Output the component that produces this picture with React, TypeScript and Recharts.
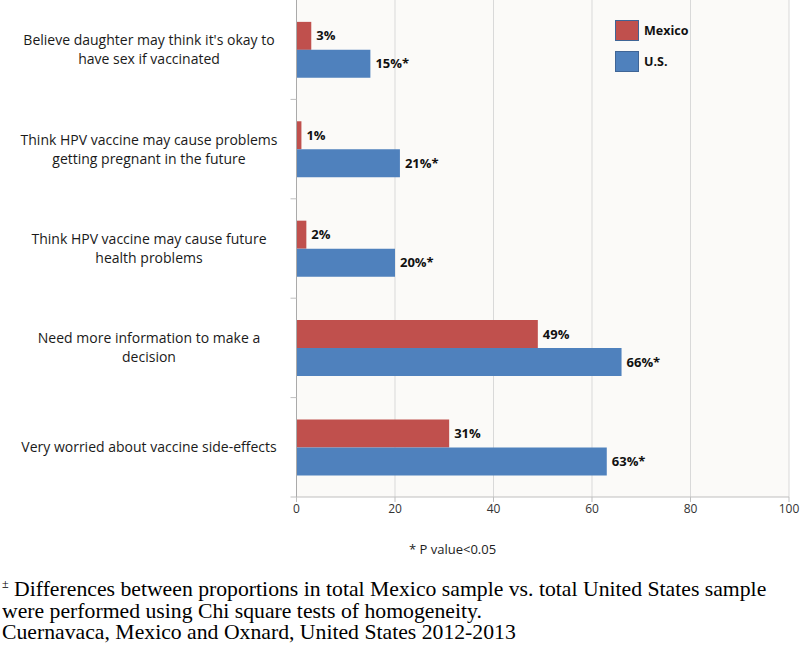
import React from "react"
import { Bar, BarChart, CartesianGrid, LabelList, XAxis, YAxis } from "recharts"

const categories = [
  "Believe daughter may think it's okay to have sex if vaccinated",
  "Think HPV vaccine may cause problems getting pregnant in the future",
  "Think HPV vaccine may cause future health problems",
  "Need more information to make a decision",
  "Very worried about vaccine side-effects",
]
const categoryLines = [
  ["Believe daughter may think it's okay to", "have sex if vaccinated"],
  ["Think HPV vaccine may cause problems", "getting pregnant in the future"],
  ["Think HPV vaccine may cause future", "health problems"],
  ["Need more information to make a", "decision"],
  ["Very worried about vaccine side-effects"],
]
const mexico = [3, 1, 2, 49, 31]
const us = [15, 21, 20, 66, 63]
const xTicks = [0, 20, 40, 60, 80, 100]

const data = categories.map((c, i) => ({ name: c, mexico: mexico[i], us: us[i] }))

const RED = "#c0504d"
const BLUE = "#4f81bd"
const FONT = "'Open Sans', 'Liberation Sans', sans-serif"

function CategoryTick(props: any) {
  const { x, y, payload } = props
  const lines = categoryLines[payload.index] ?? [payload.value]
  const lh = 19
  const start = y - ((lines.length - 1) * lh) / 2 + 5
  return (
    <g>
      {lines.map((l, i) => (
        <text key={i} x={149} y={start + i * lh} textAnchor="middle" fontSize={14} fill="#1a1a1a" fontFamily={FONT}>
          {l}
        </text>
      ))}
      <line x1={x + 2} x2={x + 8} y1={y + 49.7} y2={y + 49.7} stroke="#bfbfbf" />
    </g>
  )
}

function LegendBox() {
  const items = [
    { label: "Mexico", color: RED },
    { label: "U.S.", color: BLUE },
  ]
  return (
    <div style={{ position: "absolute", left: 615, top: 15, fontFamily: FONT }}>
      {items.map((it) => (
        <div key={it.label} style={{ display: "flex", alignItems: "center", height: 31 }}>
          <div style={{ width: 22, height: 19, background: it.color, border: "1.5px solid #3f6596", marginRight: 5 }} />
          <span style={{ fontSize: 12.5, fontWeight: 700, color: "#111" }}>{it.label}</span>
        </div>
      ))}
    </div>
  )
}

export default function App() {
  return (
    <div style={{ position: "absolute", left: 0, top: 0, width: 800, height: 649, background: "#fff", overflow: "hidden" }}>
      <BarChart
        width={800}
        height={530}
        layout="vertical"
        data={data}
        margin={{ top: 0, right: 11, left: 0, bottom: 0 }}
        barCategoryGap="22%"
        barGap={0}
      >
        <CartesianGrid horizontal={false} stroke="#d9d9d9" fill="#fbfaf8" />
        <XAxis
          type="number"
          domain={[0, 100]}
          ticks={xTicks}
          height={33}
          axisLine={{ stroke: "#bfbfbf" }}
          tickLine={{ stroke: "#bfbfbf" }}
          tickSize={5}
          tick={{ fill: "#333", fontSize: 12, fontFamily: FONT }}
        />
        <YAxis
          type="category"
          dataKey="name"
          width={296.5}
          axisLine={{ stroke: "#aaaaaa" }}
          tickLine={false}
          tick={<CategoryTick />}
          interval={0}
        />
        <Bar dataKey="mexico" fill={RED} isAnimationActive={false}>
          <LabelList
            dataKey="mexico"
            position="right"
            offset={5}
            formatter={(v: any) => `${v}%`}
            style={{ fontSize: 13, fontWeight: 700, fill: "#111", fontFamily: FONT }}
          />
        </Bar>
        <Bar dataKey="us" fill={BLUE} isAnimationActive={false}>
          <LabelList
            dataKey="us"
            position="right"
            offset={5}
            formatter={(v: any) => `${v}%*`}
            style={{ fontSize: 13, fontWeight: 700, fill: "#111", fontFamily: FONT }}
          />
        </Bar>
      </BarChart>
      <LegendBox />
      <div style={{ position: "absolute", left: 409, top: 540, fontSize: 13, fontFamily: FONT, color: "#222" }}>
        * P value&lt;0.05
      </div>
      <div
        style={{
          position: "absolute",
          left: 2,
          top: 574,
          fontFamily: "'Liberation Serif', 'DejaVu Serif', serif",
          fontSize: 21.5,
          lineHeight: "21.5px",
          color: "#000",
          transform: "scaleX(1.01)",
          transformOrigin: "left top",
          whiteSpace: "nowrap",
        }}
      >
        <div>
          <span style={{ fontSize: 12, verticalAlign: 8 }}>±</span>{"  "}Differences between proportions in total Mexico sample vs. total United States sample
        </div>
        <div>were performed using Chi square tests of homogeneity.</div>
        <div>Cuernavaca, Mexico and Oxnard, United States 2012-2013</div>
      </div>
    </div>
  )
}
